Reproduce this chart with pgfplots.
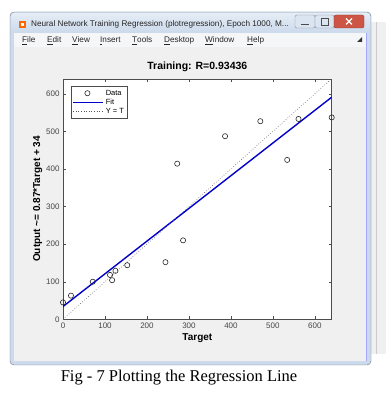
\documentclass[border=0pt]{standalone}
\usepackage{fontspec}
\setmainfont{Liberation Sans}
\newfontfamily\capfont{Liberation Serif}
\usepackage{pgfplots}
\pgfplotsset{compat=1.18}
\pgfplotsset{
  linelegend/.style={legend image code/.code={\draw[##1] (0cm,0cm) -- (1.05cm,0cm);}},
  marklegend/.style={legend image code/.code={\draw[mark repeat=1,mark phase=1,##1] plot coordinates {(0.5cm,0cm)};}},
}
\definecolor{frameblue}{RGB}{204,218,236}
\definecolor{frameedge}{RGB}{110,120,135}
\definecolor{figgray}{RGB}{240,240,240}
\definecolor{menugray}{RGB}{245,246,248}
\definecolor{fitblue}{RGB}{0,0,200}
\definecolor{closered}{RGB}{205,85,70}
\definecolor{ticktext}{RGB}{70,70,70}
\begin{document}
\begin{tikzpicture}
\useasboundingbox (0pt,0pt) rectangle (391pt,394pt);
\begin{scope}[x=1pt,y=1pt]
\fill[white] (0,0) rectangle (391,394);
% window behind on the right
\fill[gray!12] (371,40) rectangle (386,372);
\draw[gray!40] (376,40) -- (376,372);
% window frame
\draw[fill=frameblue, draw=frameedge, rounded corners=4pt] (10,29) rectangle (371,382);
\shade[top color=frameblue!50!white, bottom color=frameblue, rounded corners=3pt] (11,362) rectangle (370,381);
% title icon
\fill[orange!80!red] (19,366) rectangle (26,373);
\fill[white] (21,368) rectangle (24,371);
\node[anchor=west, inner sep=0pt, font=\fontsize{8.2}{10}\selectfont, text=black!85] at (31,370) {Neural Network Training Regression (plotregression), Epoch 1000, M...};
% window buttons
\draw[fill=frameblue!70!white, draw=frameedge!80, rounded corners=2pt] (295,366) rectangle (315,379);
\draw[gray!60!black, line width=0.8pt] (301,370) -- (309,370);
\draw[fill=frameblue!70!white, draw=frameedge!80, rounded corners=2pt] (315,366) rectangle (334,379);
\draw[gray!60!black, line width=0.6pt] (321,369) rectangle (328,376);
\draw[fill=closered, draw=closered!70!black, rounded corners=2pt] (334,366) rectangle (364,379);
\draw[white, line width=1.1pt] (346,369.5) -- (352,375.5) (346,375.5) -- (352,369.5);
% menu bar
\fill[menugray] (14,347) rectangle (366,361);
\foreach \xx/\lab in {22/\underline{F}ile, 47/\underline{E}dit, 72/\underline{V}iew, 100/\underline{I}nsert, 132/\underline{T}ools, 164/\underline{D}esktop, 205/\underline{W}indow, 247/\underline{H}elp}
  \node[anchor=west, inner sep=0pt, font=\fontsize{8.2}{10}\selectfont, text=black!85] at (\xx,353) {\lab};
\fill[black!80] (357,352) -- (362,352) -- (362,357) -- cycle;
% figure area
\fill[figgray] (14,33) rectangle (366,347);
\draw[frameblue!50!blue!60!white, line width=1pt] (366,33) -- (366,361);
% caption
\node[font=\capfont\fontsize{16.5}{18}\selectfont, inner sep=0pt] at (179,16) {Fig - 7 Plotting the Regression Line};
\end{scope}
\begin{axis}[
  at={(63pt,74.7pt)}, anchor=south west,
  scale only axis, width=268.7pt, height=240.6pt,
  xmin=0, xmax=640, ymin=0, ymax=640,
  xtick={0,100,...,600}, ytick={0,100,...,600},
  axis background/.style={fill=white},
  axis line style={gray!60!black},
  major tick style={gray!60!black},
  major tick length=3pt,
  tick align=inside,
  /pgf/number format/assume math mode=true,
  ticklabel style={font=\fontsize{8}{9}\selectfont, text=ticktext},
  title={\textbf{Training: R=0.93436}},
  title style={font=\fontsize{10.5}{12}\selectfont, yshift=-3pt},
  xlabel={\textbf{Target}},
  ylabel={\textbf{Output \symbol{126}= 0.87*Target + 34}},
  label style={font=\fontsize{10}{12}\selectfont},
  xlabel style={yshift=2pt},
  ylabel style={yshift=-3pt},
  legend style={at={(0.029,0.969)}, anchor=north west, font=\fontsize{7.5}{9}\selectfont,
    draw=gray!60!black, inner sep=1.5pt, row sep=-1.5pt, cells={anchor=west}},
  legend cell align=left,
]
\addplot[only marks, mark=o, mark size=2.6pt, mark options={gray!30!black, line width=0.6pt}, marklegend] coordinates {
 (0,45) (19,63) (71,100) (112,118) (117,104) (125,129) (153,144) (244,152)
 (286,210) (272,414) (386,487) (470,527) (534,424) (561,533) (640,537)
};
\addlegendentry{Data}
\addplot[fitblue, line width=1.4pt, linelegend] coordinates {(0,34) (640,590.8)};
\addlegendentry{Fit}
\addplot[gray!70!black, dotted, line width=0.6pt, linelegend] coordinates {(0,0) (640,640)};
\addlegendentry{Y = T}
\end{axis}
\end{tikzpicture}
\end{document}
